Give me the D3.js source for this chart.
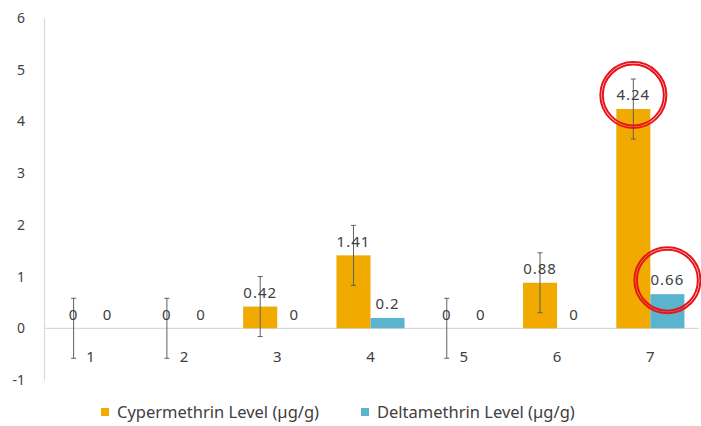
<!DOCTYPE html>
<html><head><meta charset="utf-8">
<script src="https://cdn.jsdelivr.net/npm/d3@7"></script>
<style>
body{margin:0;background:#fff;}
text{font-family:"Noto Sans","Open Sans",sans-serif;fill:#404040;}
</style></head><body>
<svg id="c" width="701" height="426"></svg>
<script>
const categories = ["1","2","3","4","5","6","7"];
const seriesNames = ["Cypermethrin Level (µg/g)","Deltamethrin Level (µg/g)"];
const cypermethrin = [0,0,0.42,1.41,0,0.88,4.24];
const deltamethrin = [0,0,0,0.2,0,0,0.66];
const cyperError = [0.58,0.58,0.58,0.58,0.58,0.58,0.58];
const yTicks = [-1,0,1,2,3,4,5,6];
const highlighted = [[6,0],[6,1]];

const colors = ["#F0AA00","#5BB4CE"];
const svg = d3.select("#c");
const y = d3.scaleLinear().domain([-1,6]).range([380,18]);
const x0 = d3.scaleBand().domain(categories).range([44,697]).paddingInner(0.27).paddingOuter(0.135);
const x1 = d3.scaleBand().domain([0,1]).range([0,x0.bandwidth()]);
const series = [cypermethrin, deltamethrin];

// y axis
const yAx = svg.append("g").attr("transform","translate(44,0)")
  .call(d3.axisLeft(y).tickValues(yTicks).tickSize(0).tickPadding(19).tickFormat(d=>String(d)));
yAx.select(".domain").attr("stroke","#d9d9d9").attr("stroke-width",1.2);
yAx.selectAll("text").attr("font-size",14).style("fill","#404040").attr("font-family",null);

// zero line
svg.append("line").attr("x1",44).attr("x2",699).attr("y1",y(0)).attr("y2",y(0))
  .attr("stroke","#d9d9d9").attr("stroke-width",1.2);

// bars
series.forEach((vals,si)=>{
  svg.append("g").selectAll("rect").data(vals).join("rect")
    .attr("x",(d,i)=>x0(categories[i])+x1(si))
    .attr("width",x1.bandwidth())
    .attr("y",d=>y(Math.max(0,d)))
    .attr("height",d=>Math.abs(y(d)-y(0)))
    .attr("fill",colors[si]);
});

// error bars (cypermethrin)
const eb = svg.append("g").attr("stroke","#606060").attr("stroke-width",1);
cypermethrin.forEach((v,i)=>{
  const cx = x0(categories[i])+x1(0)+x1.bandwidth()/2;
  const top = y(v+cyperError[i]), bot = y(v-cyperError[i]);
  eb.append("line").attr("x1",cx).attr("x2",cx).attr("y1",top).attr("y2",bot);
  eb.append("line").attr("x1",cx-2.5).attr("x2",cx+2.5).attr("y1",top).attr("y2",top);
  eb.append("line").attr("x1",cx-2.5).attr("x2",cx+2.5).attr("y1",bot).attr("y2",bot);
});

// data labels
series.forEach((vals,si)=>{
  svg.append("g").selectAll("text").data(vals).join("text")
    .attr("x",(d,i)=>x0(categories[i])+x1(si)+x1.bandwidth()/2)
    .attr("y",d=>y(Math.max(0,d))-14)
    .attr("dy","0.35em")
    .attr("text-anchor","middle")
    .attr("font-size",15)
    .attr("letter-spacing",1)
    .text(d=>String(d));
});

// category labels
svg.append("g").selectAll("text").data(categories).join("text")
  .attr("x",d=>x0(d)+x0.bandwidth()/2)
  .attr("y",357).attr("dy","0.35em").attr("text-anchor","middle")
  .attr("font-size",15).text(d=>d);

// highlight circles
highlighted.forEach(([ci,si])=>{
  const v = series[si][ci];
  const cx = x0(categories[ci])+x1(si)+x1.bandwidth()/2;
  const cy = y(v)-14;
  [33,30.5].forEach(r=>svg.append("circle").attr("cx",cx).attr("cy",cy).attr("r",r)
    .attr("fill","none").attr("stroke","#E8141B").attr("stroke-width",2));
});

// legend
const legX = [101,361];
seriesNames.forEach((n,i)=>{
  svg.append("rect").attr("x",legX[i]).attr("y",408).attr("width",8).attr("height",8).attr("fill",colors[i]);
  svg.append("text").attr("x",legX[i]+16).attr("y",412).attr("dy","0.35em").attr("font-size",16.5).text(n);
});
</script>
</body></html>
